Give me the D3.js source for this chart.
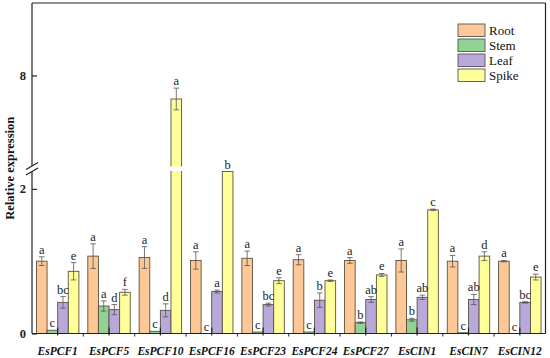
<!DOCTYPE html>
<html>
<head>
<meta charset="utf-8">
<script src="https://cdn.jsdelivr.net/npm/d3@7"></script>
<style>
  html, body { margin: 0; padding: 0; background: #fff; }
  svg { display: block; }
  svg text { font-family: "Liberation Serif", "Times New Roman", serif; }
</style>
</head>
<body>
<svg id="chart" width="550" height="358"></svg>
<script>
const categories = ["EsPCF1","EsPCF5","EsPCF10","EsPCF16","EsPCF23","EsPCF24","EsPCF27","EsCIN1","EsCIN7","EsCIN12"];
const series = ["Root","Stem","Leaf","Spike"];
const colors = ["#FDC796","#92D394","#B9A9DA","#FFFF99"];

const rootVals   = [1.00,1.07,1.05,1.01,1.04,1.02,1.01,1.01,1.00,1.00];
const rootErr    = [0.06,0.17,0.15,0.12,0.10,0.07,0.04,0.16,0.08,0.01];
const rootLbl    = ["a","a","a","a","a","a","a","a","a","a"];
const stemVals   = [0.045,0.38,0.03,0.00,0.02,0.02,0.15,0.19,0.01,0.00];
const stemErr    = [0.00,0.07,0.00,0.00,0.00,0.00,0.01,0.02,0.00,0.00];
const stemLbl    = ["c","a","c","c","c","c","b","b","c","c"];
const leafVals   = [0.43,0.33,0.32,0.58,0.40,0.46,0.47,0.50,0.47,0.43];
const leafErr    = [0.08,0.07,0.09,0.02,0.02,0.10,0.04,0.03,0.07,0.01];
const leafLbl    = ["bc","d","d","a","bc","b","ab","ab","ab","bc"];
const spikeVals  = [0.86,0.57,7.48,4.00,0.73,0.73,0.81,1.71,1.07,0.78];
const spikeErr   = [0.12,0.04,0.24,0.00,0.04,0.01,0.02,0.01,0.06,0.04];
const spikeLbl   = ["e","f","a","b","e","e","e","c","d","e"];

const lowTicks = [0, 2];
const highTicks = [8];
const lowDomain = [0, 2.24];
const highDomain = [6, 9.6];

const values = [rootVals, stemVals, leafVals, spikeVals];
const errs = [rootErr, stemErr, leafErr, spikeErr];
const lbls = [rootLbl, stemLbl, leafLbl, spikeLbl];

const FONT = "Liberation Serif, Times New Roman, serif";
const pL = 32, pR = 545.5, pT = 3, pB = 333.5;
const gapTop = 166, gapBot = 171.5;

const svg = d3.select("#chart").attr("font-family", FONT);

const x0 = d3.scaleBand().domain(categories).range([pL, pR]).padding(0);
const x1 = d3.scaleBand().domain(series).range([0, x0.bandwidth()]).paddingInner(0).paddingOuter(0.42);
const yLow = d3.scaleLinear().domain(lowDomain).range([pB, gapBot]);
const yHigh = d3.scaleLinear().domain(highDomain).range([gapTop, pT]);

function yPos(v) {
  if (v <= lowDomain[1]) return yLow(v);
  if (v >= highDomain[0]) return yHigh(v);
  return gapBot; // inside the break: clipped at lower segment top
}

const recs = [];
categories.forEach((c, i) => {
  series.forEach((s, j) => {
    recs.push({cat: c, ser: s, j, v: values[j][i], e: errs[j][i], l: lbls[j][i]});
  });
});

const g = svg.append("g");

g.selectAll("rect.bar").data(recs.filter(d => d.v > 0)).join("rect")
  .attr("class", "bar")
  .attr("x", d => x0(d.cat) + x1(d.ser))
  .attr("width", x1.bandwidth())
  .attr("y", d => yPos(d.v))
  .attr("height", d => yLow(0) - yPos(d.v))
  .attr("fill", d => colors[d.j])
  .attr("stroke", "#5b5140")
  .attr("stroke-width", 0.9);

const eb = recs.filter(d => d.e > 0);
const cx = d => x0(d.cat) + x1(d.ser) + x1.bandwidth() / 2;
const eg = g.append("g").attr("stroke", "#555").attr("stroke-width", 0.8).attr("fill", "none");
eg.selectAll("line.v").data(eb).join("line").attr("class", "v")
  .attr("x1", cx).attr("x2", cx)
  .attr("y1", d => yPos(d.v - d.e)).attr("y2", d => yPos(d.v + d.e));
eg.selectAll("line.t").data(eb).join("line").attr("class", "t")
  .attr("x1", d => cx(d) - 2.8).attr("x2", d => cx(d) + 2.8)
  .attr("y1", d => yPos(d.v + d.e)).attr("y2", d => yPos(d.v + d.e));
eg.selectAll("line.b").data(eb).join("line").attr("class", "b")
  .attr("x1", d => cx(d) - 2.8).attr("x2", d => cx(d) + 2.8)
  .attr("y1", d => yPos(d.v - d.e)).attr("y2", d => yPos(d.v - d.e));

svg.append("rect").attr("x", pL - 6).attr("y", gapTop + 0.5).attr("width", pR - pL + 5.5)
  .attr("height", gapBot - gapTop - 1).attr("fill", "#fff");

svg.append("g").selectAll("text.sig").data(recs).join("text")
  .attr("class", "sig")
  .attr("x", cx)
  .attr("y", d => yPos(d.v + d.e) - 3)
  .attr("text-anchor", "middle")
  .attr("font-family", FONT)
  .attr("font-size", 12.5)
  .attr("fill", "#222")
  .text(d => d.l);

const ax = svg.append("g").attr("stroke", "#222").attr("stroke-width", 1.2).attr("fill", "none");
ax.append("line").attr("x1", pL).attr("x2", pR).attr("y1", pT).attr("y2", pT);
ax.append("line").attr("x1", pR).attr("x2", pR).attr("y1", pT).attr("y2", pB);
ax.append("line").attr("x1", pL).attr("x2", pR).attr("y1", pB).attr("y2", pB);
ax.append("line").attr("x1", pL).attr("x2", pL).attr("y1", pT).attr("y2", gapTop);
ax.append("line").attr("x1", pL).attr("x2", pL).attr("y1", gapBot).attr("y2", pB);
[gapTop, gapBot].forEach(yy => {
  ax.append("line").attr("x1", pL - 6).attr("x2", pL + 6)
    .attr("y1", yy + 3.5).attr("y2", yy - 3.5);
});

const yAxLow = d3.axisLeft(yLow).tickValues(lowTicks).tickSize(-5).tickPadding(6).tickFormat(d3.format("d"));
const yAxHigh = d3.axisLeft(yHigh).tickValues(highTicks).tickSize(-5).tickPadding(6).tickFormat(d3.format("d"));
[yAxLow, yAxHigh].forEach(a => {
  const gg = svg.append("g").attr("transform", `translate(${pL},0)`).call(a);
  gg.attr("font-family", FONT);
  gg.select(".domain").remove();
  gg.selectAll("line").attr("stroke", "#222").attr("stroke-width", 1.2);
  gg.selectAll("text").attr("font-family", FONT).attr("font-weight", "bold")
    .attr("font-size", 12.5).attr("fill", "#222");
});

const xAx = d3.axisBottom(x0).tickSize(-6).tickPadding(13);
const xg = svg.append("g").attr("transform", `translate(0,${pB})`).call(xAx);
xg.attr("font-family", FONT);
xg.select(".domain").remove();
xg.selectAll("line").attr("stroke", "#222").attr("stroke-width", 1.2).attr("y2", -6).attr("y1", 2);
xg.selectAll("text").attr("font-family", FONT).attr("font-weight", "bold")
  .attr("font-style", "italic").attr("font-size", 11.5).attr("fill", "#111");
const edges = categories.slice(1).map(c => x0(c));
svg.append("g").selectAll("line").data(edges).join("line")
  .attr("x1", d => d).attr("x2", d => d).attr("y1", pB).attr("y2", pB + 3)
  .attr("stroke", "#222").attr("stroke-width", 1);

svg.append("text")
  .attr("transform", `translate(14,${(pT + pB) / 2}) rotate(-90)`)
  .attr("text-anchor", "middle")
  .attr("font-family", FONT)
  .attr("font-weight", "bold").attr("font-size", 12.5).attr("fill", "#111")
  .text("Relative expression");

const lg = svg.append("g").attr("transform", "translate(458,24)");
series.forEach((s, j) => {
  const row = lg.append("g").attr("transform", `translate(0,${j * 15})`);
  row.append("rect").attr("width", 27).attr("height", 12.5)
    .attr("fill", colors[j]).attr("stroke", "#555").attr("stroke-width", 0.9);
  row.append("text").attr("x", 31).attr("y", 10.5).attr("font-family", FONT)
    .attr("font-size", 13).attr("fill", "#111").text(s);
});
</script>
</body>
</html>
